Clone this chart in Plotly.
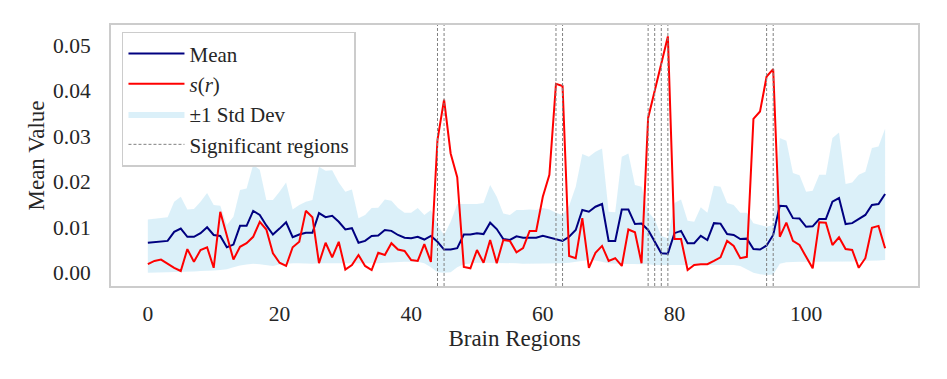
import plotly.graph_objects as go

# per-region values
regions = list(range(113))

mean_vals = [
    0.0066, 0.0067, 0.0068, 0.0070, 0.0090, 0.0097, 0.0079, 0.0079, 0.0087, 0.0100,
    0.0083, 0.0081, 0.0056, 0.0062, 0.0103, 0.0103, 0.0136, 0.0127, 0.0104, 0.0084,
    0.0097, 0.0111, 0.0078, 0.0084, 0.0088, 0.0088, 0.0131, 0.0122, 0.0125, 0.0112,
    0.0095, 0.0098, 0.0066, 0.0070, 0.0081, 0.0082, 0.0094, 0.0092, 0.0083, 0.0077,
    0.0076, 0.0079, 0.0073, 0.0081, 0.0068, 0.0051, 0.0051, 0.0054, 0.0084, 0.0084,
    0.0087, 0.0085, 0.0110, 0.0096, 0.0074, 0.0072, 0.0080, 0.0077, 0.0077, 0.0077,
    0.0081, 0.0077, 0.0073, 0.0070, 0.0079, 0.0094, 0.0138, 0.0134, 0.0145, 0.0151,
    0.0070, 0.0070, 0.0139, 0.0139, 0.0107, 0.0108, 0.0094, 0.0068, 0.0043, 0.0042,
    0.0087, 0.0092, 0.0065, 0.0065, 0.0081, 0.0072, 0.0109, 0.0108, 0.0085, 0.0083,
    0.0074, 0.0075, 0.0052, 0.0051, 0.0060, 0.0083, 0.0147, 0.0146, 0.0120, 0.0119,
    0.0101, 0.0102, 0.0118, 0.0118, 0.0156, 0.0164, 0.0107, 0.0109, 0.0119, 0.0127,
    0.0149, 0.0151, 0.0173,
]

s_vals = [
    0.0019, 0.0026, 0.0029, 0.0020, 0.0011, 0.0004, 0.0052, 0.0024, 0.0050, 0.0056,
    0.0011, 0.0134, 0.0079, 0.0029, 0.0057, 0.0065, 0.0079, 0.0112, 0.0095, 0.0043,
    0.0022, 0.0015, 0.0056, 0.0068, 0.0136, 0.0122, 0.0021, 0.0066, 0.0034, 0.0068,
    0.0007, 0.0017, 0.0039, 0.0015, 0.0006, 0.0044, 0.0039, 0.0065, 0.0051, 0.0048,
    0.0028, 0.0026, 0.0063, 0.0024, 0.0292, 0.0380, 0.0262, 0.0210, 0.0013, 0.0010,
    0.0050, 0.0022, 0.0072, 0.0021, 0.0072, 0.0070, 0.0045, 0.0054, 0.0092, 0.0092,
    0.0167, 0.0215, 0.0415, 0.0410, 0.0037, 0.0032, 0.0120, 0.0011, 0.0044, 0.0059,
    0.0026, 0.0032, 0.0015, 0.0095, 0.0089, 0.0021, 0.0340, 0.0400, 0.0464, 0.0519,
    0.0074, 0.0074, 0.0006, 0.0017, 0.0019, 0.0019, 0.0026, 0.0034, 0.0070, 0.0059,
    0.0032, 0.0035, 0.0338, 0.0354, 0.0431, 0.0447, 0.0079, 0.0110, 0.0070, 0.0061,
    0.0035, 0.0010, 0.0111, 0.0110, 0.0061, 0.0078, 0.0052, 0.0050, 0.0011, 0.0032,
    0.0099, 0.0103, 0.0054,
]

std_upper = [
    0.0117, 0.0119, 0.0120, 0.0122, 0.0156, 0.0167, 0.0139, 0.0140, 0.0156, 0.0175,
    0.0149, 0.0147, 0.0105, 0.0123, 0.0182, 0.0185, 0.0237, 0.0226, 0.0160, 0.0160,
    0.0178, 0.0198, 0.0139, 0.0149, 0.0156, 0.0160, 0.0233, 0.0224, 0.0225, 0.0198,
    0.0178, 0.0183, 0.0120, 0.0127, 0.0142, 0.0143, 0.0161, 0.0158, 0.0142, 0.0132,
    0.0132, 0.0142, 0.0127, 0.0138, 0.0105, 0.0083, 0.0112, 0.0151, 0.0151, 0.0151,
    0.0151, 0.0153, 0.0193, 0.0167, 0.0130, 0.0127, 0.0138, 0.0138, 0.0139, 0.0138,
    0.0142, 0.0139, 0.0132, 0.0127, 0.0147, 0.0189, 0.0261, 0.0255, 0.0266, 0.0273,
    0.0134, 0.0133, 0.0255, 0.0262, 0.0193, 0.0189, 0.0134, 0.0117, 0.0081, 0.0076,
    0.0153, 0.0161, 0.0114, 0.0112, 0.0144, 0.0132, 0.0191, 0.0189, 0.0153, 0.0149,
    0.0132, 0.0132, 0.0109, 0.0105, 0.0101, 0.0105, 0.0296, 0.0290, 0.0219, 0.0214,
    0.0178, 0.0180, 0.0215, 0.0215, 0.0296, 0.0308, 0.0195, 0.0198, 0.0215, 0.0222,
    0.0274, 0.0277, 0.0316,
]

std_lower = [
    0.0000, 0.0000, 0.0001, 0.0001, 0.0002, 0.0002, 0.0003, 0.0003, 0.0004, 0.0004,
    0.0005, 0.0006, 0.0008, 0.0012, 0.0016, 0.0018, 0.0020, 0.0019, 0.0017, 0.0015,
    0.0018, 0.0020, 0.0021, 0.0021, 0.0020, 0.0020, 0.0021, 0.0021, 0.0020, 0.0020,
    0.0021, 0.0021, 0.0020, 0.0020, 0.0021, 0.0021, 0.0022, 0.0023, 0.0024, 0.0024,
    0.0024, 0.0024, 0.0021, 0.0012, 0.0001, 0.0000, 0.0001, 0.0012, 0.0019, 0.0021,
    0.0022, 0.0022, 0.0022, 0.0022, 0.0022, 0.0022, 0.0021, 0.0020, 0.0020, 0.0020,
    0.0020, 0.0020, 0.0020, 0.0021, 0.0022, 0.0024, 0.0027, 0.0028, 0.0027, 0.0024,
    0.0021, 0.0020, 0.0020, 0.0020, 0.0020, 0.0020, 0.0019, 0.0017, 0.0017, 0.0017,
    0.0017, 0.0017, 0.0017, 0.0017, 0.0017, 0.0017, 0.0017, 0.0017, 0.0017, 0.0017,
    0.0015, 0.0008, 0.0000, -0.0003, -0.0005, -0.0004, 0.0020, 0.0023, 0.0024, 0.0024,
    0.0024, 0.0024, 0.0024, 0.0024, 0.0024, 0.0025, 0.0025, 0.0025, 0.0026, 0.0026,
    0.0027, 0.0027, 0.0028,
]

significant = [44, 45, 62, 63, 76, 77, 78, 79, 94, 95]

FONT = "Liberation Serif"
TEXT = "#262626"

fig = go.Figure()

# std band
fig.add_trace(go.Scatter(
    x=regions, y=std_upper, mode="lines", line=dict(width=0),
    hoverinfo="skip", showlegend=False,
))
fig.add_trace(go.Scatter(
    x=regions, y=std_lower, mode="lines", line=dict(width=0),
    fill="tonexty", fillcolor="rgba(135,206,235,0.3)",
    name="±1 Std Dev", legendrank=3,
))

fig.add_trace(go.Scatter(
    x=regions, y=mean_vals, mode="lines",
    line=dict(color="#000080", width=2), name="Mean", legendrank=1,
))
fig.add_trace(go.Scatter(
    x=regions, y=s_vals, mode="lines",
    line=dict(color="#ff0000", width=2), name="<i>s</i>(<i>r</i>)", legendrank=2,
))

# significant regions: dashed vertical lines over the full height
for r in significant:
    fig.add_shape(
        type="line", x0=r, x1=r, y0=0, y1=1, xref="x", yref="paper",
        line=dict(color="#808080", width=1, dash="3px,2px"), layer="above",
    )
fig.add_trace(go.Scatter(
    x=[None], y=[None], mode="lines",
    line=dict(color="#808080", width=1, dash="3px,2px"),
    name="Significant regions", legendrank=4,
))

axis_common = dict(
    showgrid=False, zeroline=False, showline=True, mirror=True,
    linecolor="#cccccc", linewidth=2, ticks="",
    tickfont=dict(family=FONT, size=21.5, color=TEXT),
)

# page body adds an 8px offset, so the figure is drawn 8px smaller
fig.update_layout(
    width=939, height=371,
    margin=dict(l=103, r=29, t=17, b=93),
    paper_bgcolor="white", plot_bgcolor="white",
    font=dict(family=FONT, color=TEXT),
    showlegend=True,
    legend=dict(
        x=0.0136, y=0.974, xanchor="left", yanchor="top",
        bgcolor="rgba(255,255,255,0.8)", bordercolor="#cccccc", borderwidth=1.5,
        font=dict(family=FONT, size=21, color=TEXT),
        traceorder="normal", itemwidth=56, tracegroupgap=0,
    ),
    xaxis=dict(
        range=[-5.6, 117.0], tickvals=[0, 20, 40, 60, 80, 100],
        title=dict(text="Brain Regions", font=dict(family=FONT, size=23, color=TEXT), standoff=0),
        ticklabelstandoff=7,
        **axis_common,
    ),
    yaxis=dict(
        range=[-0.0029, 0.0544], tickvals=[0, 0.01, 0.02, 0.03, 0.04, 0.05],
        tickformat=".2f",
        title=dict(text="Mean Value", font=dict(family=FONT, size=23, color=TEXT), standoff=2),
        ticklabelstandoff=14,
        **axis_common,
    ),
)

fig.write_html("out.html")
